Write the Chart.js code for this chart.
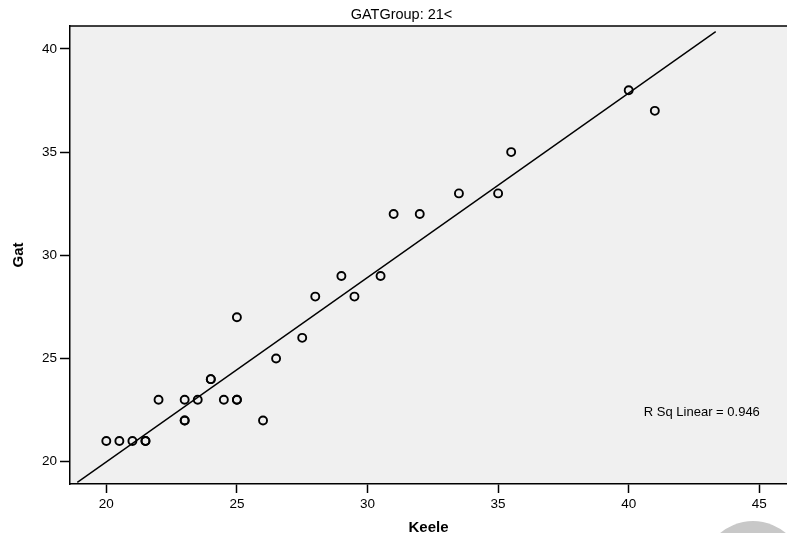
<!DOCTYPE html>
<html>
<head>
<meta charset="utf-8">
<title>GATGroup: 21&lt;</title>
<script src="https://cdn.jsdelivr.net/npm/chart.js"></script>
<style>
    html, body { margin: 0; padding: 0; background: #ffffff; }
    canvas { display: block; }
</style>
</head>
<body>
<canvas id="scatter-chart" width="787" height="533"></canvas>
<script>
/* Dữ liệu: Keele (trục X) và Gat (trục Y) */
const keele = [20, 20.5, 21, 21.5, 21.5, 22, 23, 23, 23, 23.5, 24, 24, 24.5, 25, 25, 25, 26, 26.5, 27.5, 28, 29, 29.5, 30.5, 31, 32, 33.5, 35, 35.5, 40, 41];
const gat   = [21, 21,   21, 21,   21,   23, 23, 22, 22, 23,   24, 24, 23,   23, 23, 27, 22, 25,   26,   28, 29, 28,   29,   32, 32, 33,   33, 35,   38, 37];

/* Đường hồi quy: hai đầu mút */
const fitX = [18.89, 43.33];
const fitY = [19.0, 40.84];

const xTicks = [20, 25, 30, 35, 40, 45];
const yTicks = [20, 25, 30, 35, 40];

const chartTitle = 'GATGroup: 21<';
const rSqText = 'R Sq Linear = 0.946';
const rSqPos = { x: 42.8, y: 22.41 };

const FONT = 'Arial, "Liberation Sans", sans-serif';

const scatterPoints = keele.map((k, i) => ({ x: k, y: gat[i] }));
const fitPoints = fitX.map((x, i) => ({ x: x, y: fitY[i] }));

/* Nền xám, viền trên, tiêu đề, chú thích R Sq */
const decorPlugin = {
    id: 'decor',
    beforeDraw(chart) {
        const { ctx, chartArea: a } = chart;
        ctx.save();
        ctx.fillStyle = '#f0f0f0';
        ctx.fillRect(a.left, a.top, a.right - a.left, a.bottom - a.top);
        ctx.restore();
    },
    afterDraw(chart) {
        const { ctx, chartArea: a, scales } = chart;
        ctx.save();
        ctx.strokeStyle = '#000';
        ctx.lineWidth = 1.5;
        ctx.beginPath();
        ctx.moveTo(a.left, a.top);
        ctx.lineTo(a.right, a.top);
        ctx.stroke();

        ctx.fillStyle = '#000';
        ctx.textAlign = 'center';
        ctx.textBaseline = 'alphabetic';
        ctx.font = '14.5px ' + FONT;
        ctx.fillText(chartTitle, 401.5, 19.3);

        ctx.font = '13px ' + FONT;
        ctx.textBaseline = 'middle';
        ctx.fillText(rSqText, scales.x.getPixelForValue(rSqPos.x), scales.y.getPixelForValue(rSqPos.y));

        // vòng tròn xám mờ ở góc dưới
        ctx.fillStyle = '#c8c8c8';
        ctx.beginPath();
        ctx.arc(753, 572, 51, 0, Math.PI * 2);
        ctx.fill();
        ctx.restore();
    }
};

new Chart(document.getElementById('scatter-chart').getContext('2d'), {
    type: 'scatter',
    data: {
        datasets: [
            {
                type: 'line',
                label: 'Linear',
                data: fitPoints,
                borderColor: '#000',
                borderWidth: 1.4,
                pointRadius: 0,
                fill: false,
                order: 2
            },
            {
                label: 'Gat',
                data: scatterPoints,
                pointStyle: 'circle',
                pointRadius: 4,
                borderColor: '#000',
                borderWidth: 1.9,
                backgroundColor: 'rgba(0,0,0,0)',
                order: 1
            }
        ]
    },
    options: {
        responsive: false,
        animation: false,
        events: [],
        layout: { autoPadding: false, padding: { top: 26, left: 0, right: 0, bottom: 0 } },
        plugins: {
            legend: { display: false },
            tooltip: { enabled: false },
            title: { display: false }
        },
        scales: {
            x: {
                type: 'linear', position: 'bottom',
                min: 18.61, max: 46.06,
                afterBuildTicks: axis => { axis.ticks = xTicks.map(v => ({ value: v })); },
                afterFit: axis => { axis.height = 49; },
                grid: { drawOnChartArea: false, drawTicks: true, tickLength: 9, tickColor: '#000', tickWidth: 1.5 },
                border: { display: true, color: '#000', width: 1.5 },
                ticks: { color: '#000', font: { family: FONT, size: 13.5 }, padding: 3, maxRotation: 0 },
                title: {
                    display: true, text: 'Keele', color: '#000',
                    font: { family: FONT, size: 15, weight: 'bold', lineHeight: 1 },
                    padding: { top: 0, bottom: -2.5 }
                }
            },
            y: {
                type: 'linear', position: 'left',
                min: 18.92, max: 41.11,
                afterBuildTicks: axis => { axis.ticks = yTicks.map(v => ({ value: v })); },
                afterFit: axis => { axis.width = 70; },
                grid: { drawOnChartArea: false, drawTicks: true, tickLength: 10, tickColor: '#000', tickWidth: 1.5 },
                border: { display: true, color: '#000', width: 1.5 },
                ticks: { color: '#000', font: { family: FONT, size: 13.5 }, padding: 3 },
                title: {
                    display: true, text: 'Gat', color: '#000',
                    font: { family: FONT, size: 15, weight: 'bold', lineHeight: 1 },
                    padding: { top: 11, bottom: 0 }
                }
            }
        }
    },
    plugins: [decorPlugin]
});
</script>
</body>
</html>
